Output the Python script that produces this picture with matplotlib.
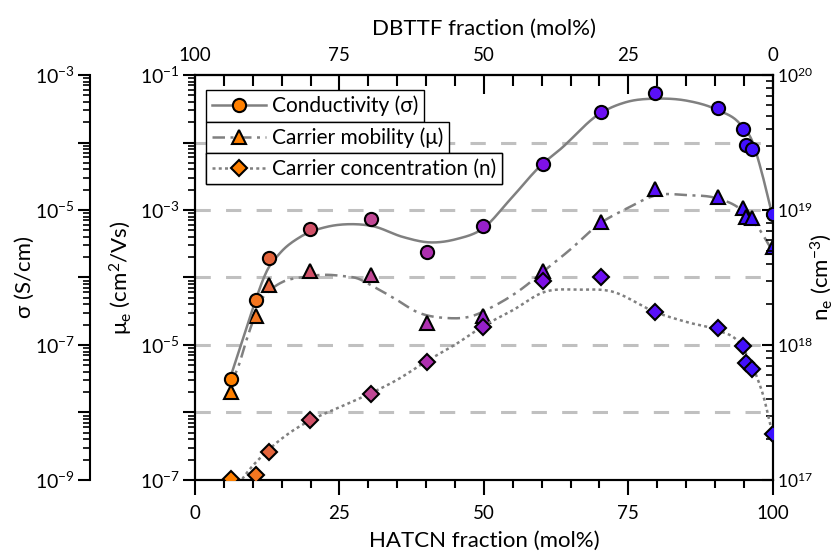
import numpy as np
import matplotlib
matplotlib.use('Agg')
import matplotlib.pyplot as plt
from matplotlib.colors import LinearSegmentedColormap
from matplotlib.lines import Line2D
from matplotlib.ticker import LogLocator, MultipleLocator, NullFormatter

plt.rcParams['font.family'] = ['Lato', 'DejaVu Sans']
plt.rcParams['mathtext.default'] = 'regular'
plt.rcParams['font.size'] = 13

# HATCN fraction (mol%) of each sample
hatcn = [6.2, 10.5, 12.8, 19.9, 30.4, 40.1, 49.9, 60.3, 70.2, 79.7, 90.5, 94.9, 95.3, 96.4, 100]
# conductivity (S/cm)
sigma = [3.1e-8, 4.6e-7, 1.96e-6, 5.3e-6, 7.3e-6, 2.4e-6, 5.7e-6, 4.8e-5, 2.83e-4,
         5.36e-4, 3.21e-4, 1.6e-4, 9.1e-5, 7.9e-5, 8.7e-6]
# electron mobility (cm2/Vs)
mobility = [2.0e-6, 2.72e-5, 7.7e-5, 1.26e-4, 1.09e-4, 2.1e-5, 2.72e-5, 1.25e-4, 6.7e-4,
            2.05e-3, 1.57e-3, 1.06e-3, 7.9e-4, 7.7e-4, 2.86e-4]
# carrier concentration (cm-3)
conc = [1.02e17, 1.08e17, 1.62e17, 2.78e17, 4.34e17, 7.45e17, 1.37e18, 2.98e18, 3.21e18,
        1.75e18, 1.33e18, 9.9e17, 7.3e17, 6.6e17, 2.18e17]

# guide-to-the-eye curves (x, log10 value)
sig_fit_x = [6.35, 8.4, 10.5, 12.4, 14.7, 18.2, 22.8, 26.8, 30.8, 36, 40.7, 45.3, 49.9, 54.5,
             60, 63.1, 70.1, 74.7, 79.9, 85.1, 90.5, 94.3, 96.6, 98, 99.8]
sig_fit_y = [-7.42, -6.88, -6.33, -5.91, -5.64, -5.40, -5.25, -5.21, -5.24, -5.40, -5.48, -5.43,
             -5.27, -4.85, -4.33, -4.11, -3.57, -3.40, -3.35, -3.38, -3.52, -3.72, -4.01, -4.41, -5.03]
mob_fit_x = [6.3, 7.5, 8.9, 10.1, 11.5, 13.0, 15.3, 18.2, 22.8, 25.7, 28.0, 30.8, 34.9, 38.4,
             43.5, 47.6, 51.6, 56.2, 60.3, 64.9, 70.1, 74.7, 79.9, 85.1, 90.5, 94.3, 97.8, 99.5]
mob_fit_y = [-5.55, -5.32, -4.93, -4.63, -4.33, -4.19, -4.06, -4.00, -3.96, -3.98, -4.01, -4.13,
             -4.33, -4.51, -4.60, -4.58, -4.43, -4.19, -3.91, -3.59, -3.20, -2.98, -2.78, -2.78,
             -2.83, -2.98, -3.30, -3.54]
n_fit_x = [7.0, 8.4, 12.4, 16.4, 19.9, 25.1, 30.3, 34.9, 40.1, 45.3, 49.9, 55.1, 60.3, 66.6,
           71.8, 79.9, 85.1, 90.3, 94.3, 97.2, 98.4, 99.8]
n_fit_y = [16.93, 17.02, 17.21, 17.35, 17.44, 17.54, 17.64, 17.74, 17.88, 18.01, 18.14, 18.26,
           18.39, 18.41, 18.40, 18.24, 18.17, 18.11, 18.01, 17.77, 17.62, 17.37]


def smooth(xk, yk, n=400):
    # cubic Hermite curve through the read points
    xk = np.asarray(xk, float)
    yk = np.asarray(yk, float)
    m = np.gradient(yk, xk)
    xs = np.linspace(xk[0], xk[-1], n)
    i = np.clip(np.searchsorted(xk, xs) - 1, 0, len(xk) - 2)
    h = xk[i + 1] - xk[i]
    t = (xs - xk[i]) / h
    ys = ((2 * t**3 - 3 * t**2 + 1) * yk[i] + (t**3 - 2 * t**2 + t) * h * m[i]
          + (-2 * t**3 + 3 * t**2) * yk[i + 1] + (t**3 - t**2) * h * m[i + 1])
    return xs, 10 ** ys


cmap = LinearSegmentedColormap.from_list('mix', [
    (0.0, '#ff8000'), (0.06, '#ff8000'), (0.11, '#f27426'), (0.13, '#e06042'),
    (0.20, '#d0506a'), (0.30, '#c04894'), (0.40, '#ae30b0'), (0.50, '#9620cc'),
    (0.60, '#8010e6'), (0.70, '#6c0ff2'), (0.80, '#5a10f8'), (0.90, '#4c10fc'),
    (1.0, '#3a10ff')])
colors = [cmap(x / 100) for x in hatcn]

gray = '#808080'
fig = plt.figure(figsize=(8.34, 5.54), dpi=100)
ax = fig.add_axes([0.2338, 0.1336, 0.6927, 0.731])
ax_n = ax.twinx()
ax_s = ax.twinx()

# dashed reference lines
for v in [1e-6, 1e-5, 1e-4, 1e-3, 1e-2]:
    ax.axhline(v, color='#c0c0c0', lw=2.2, dashes=(5, 5), zorder=0)

mk = dict(markeredgecolor='black', markeredgewidth=1.5, linestyle='none', zorder=5)

xs, ys = smooth(mob_fit_x, mob_fit_y)
ax.plot(xs, ys, color=gray, lw=1.8, dashes=(5, 2.2, 1.2, 2.2), zorder=2)
for x, y, c in zip(hatcn, mobility, colors):
    ax.plot(x, y, marker='^', markersize=10.5, markerfacecolor=c, **mk)

xs, ys = smooth(n_fit_x, n_fit_y)
ax_n.plot(xs, ys, color=gray, lw=1.8, dashes=(1.2, 1.3), zorder=2)
for x, y, c in zip(hatcn, conc, colors):
    ax_n.plot(x, y, marker='D', markersize=8.5, markerfacecolor=c, **mk)

xs, ys = smooth(sig_fit_x, sig_fit_y)
ax_s.plot(xs, ys, color=gray, lw=1.8, zorder=2)
for x, y, c in zip(hatcn, sigma, colors):
    ax_s.plot(x, y, marker='o', markersize=9.5, markerfacecolor=c, **mk)

# axes ranges and scales
ax.set_xlim(0, 100)
ax.set_yscale('log')
ax.set_ylim(1e-7, 1e-1)
ax_n.set_yscale('log')
ax_n.set_ylim(1e17, 1e20)
ax_s.set_yscale('log')
ax_s.set_ylim(1e-9, 1e-3)

for a in (ax, ax_n, ax_s):
    for s in a.spines.values():
        s.set_linewidth(1.5)

ax.xaxis.set_major_locator(MultipleLocator(25))
ax.xaxis.set_minor_locator(MultipleLocator(5))
ax.tick_params(axis='x', which='major', direction='out', length=11, width=1.5, labelsize=13.5, pad=7)
ax.tick_params(axis='x', which='minor', direction='out', length=6, width=1.5)

ax.yaxis.set_minor_locator(LogLocator(base=10, subs=np.arange(2, 10), numticks=20))
ax.yaxis.set_minor_formatter(NullFormatter())
ax.set_yticks([1e-7, 1e-6, 1e-5, 1e-4, 1e-3, 1e-2, 1e-1])
ax.set_yticklabels(['$10^{-7}$', '', '$10^{-5}$', '', '$10^{-3}$', '', '$10^{-1}$'])
ax.tick_params(axis='y', which='major', direction='out', length=9, width=1.5, labelsize=14, pad=2)
ax.tick_params(axis='y', which='minor', direction='out', length=5, width=1.2)

ax_n.yaxis.set_minor_locator(LogLocator(base=10, subs=np.arange(2, 10), numticks=20))
ax_n.yaxis.set_minor_formatter(NullFormatter())
ax_n.set_yticks([1e17, 1e18, 1e19, 1e20])
ax_n.set_yticklabels(['$10^{17}$', '$10^{18}$', '$10^{19}$', '$10^{20}$'])
ax_n.tick_params(axis='y', which='major', direction='in', length=8, width=1.5, labelsize=12.5, pad=3)
ax_n.tick_params(axis='y', which='minor', direction='in', length=5, width=1.2)

ax_s.spines['left'].set_visible(True)
ax_s.spines['left'].set_position(('axes', -0.1818))
ax_s.spines['right'].set_visible(False)
ax_s.spines['top'].set_visible(False)
ax_s.spines['bottom'].set_visible(False)
ax_s.yaxis.set_ticks_position('left')
ax_s.yaxis.set_label_position('left')
ax_s.yaxis.set_minor_locator(LogLocator(base=10, subs=np.arange(2, 10), numticks=20))
ax_s.yaxis.set_minor_formatter(NullFormatter())
ax_s.set_yticks([1e-9, 1e-8, 1e-7, 1e-6, 1e-5, 1e-4, 1e-3])
ax_s.set_yticklabels(['$10^{-9}$', '', '$10^{-7}$', '', '$10^{-5}$', '', '$10^{-3}$'])
ax_s.tick_params(axis='y', which='major', direction='out', length=9, width=1.5, labelsize=14, pad=2)
ax_s.tick_params(axis='y', which='minor', direction='out', length=5, width=1.2)

top = ax.secondary_xaxis('top', functions=(lambda x: 100 - x, lambda x: 100 - x))
top.xaxis.set_major_locator(MultipleLocator(25))
top.xaxis.set_minor_locator(MultipleLocator(5))
top.tick_params(axis='x', which='major', direction='in', length=14, width=1.5, labelsize=13.5, pad=8)
top.tick_params(axis='x', which='minor', direction='in', length=8, width=1.5)
top.spines['top'].set_linewidth(1.5)

# axis labels
ax.set_xlabel('HATCN fraction (mol%)', fontsize=16)
ax.xaxis.set_label_coords(0.5, -0.126)
top.set_xlabel('DBTTF fraction (mol%)', fontsize=16, labelpad=9)
ax.set_ylabel('μ$_e$ (cm$^2$/Vs)', fontsize=16)
ax.yaxis.set_label_coords(-0.104, 0.5)
ax_s.set_ylabel('σ (S/cm)', fontsize=16)
ax_s.yaxis.set_label_coords(-0.278, 0.5)
ax_n.set_ylabel('n$_e$ (cm$^{-3}$)', fontsize=16)
ax_n.yaxis.set_label_coords(1.062, 0.5)

# three stacked legend boxes
entries = [
    (Line2D([], [], color=gray, lw=1.8, marker='o', markersize=9.5, markerfacecolor='#ff8000',
            markeredgecolor='black', markeredgewidth=1.5), 'Conductivity (σ)', 0.963),
    (Line2D([], [], color=gray, lw=1.8, dashes=(5, 2.2, 1.2, 2.2), marker='^', markersize=10.5,
            markerfacecolor='#ff8000', markeredgecolor='black', markeredgewidth=1.5),
     'Carrier mobility (μ)', 0.884),
    (Line2D([], [], color=gray, lw=1.8, dashes=(1.2, 1.3), marker='D', markersize=8.5,
            markerfacecolor='#ff8000', markeredgecolor='black', markeredgewidth=1.5),
     'Carrier concentration (n)', 0.807),
]
for h, lab, ytop in entries:
    leg = ax_s.legend([h], [lab], loc='upper left', bbox_to_anchor=(0.019, ytop),
                      borderaxespad=0, fancybox=False, framealpha=1, edgecolor='black',
                      fontsize=15, handlelength=2.6, handletextpad=0.3, borderpad=0.27)
    leg.get_frame().set_linewidth(1.0)
    leg.set_zorder(10)
    ax_s.add_artist(leg)

fig.savefig('out.png', dpi=100)
